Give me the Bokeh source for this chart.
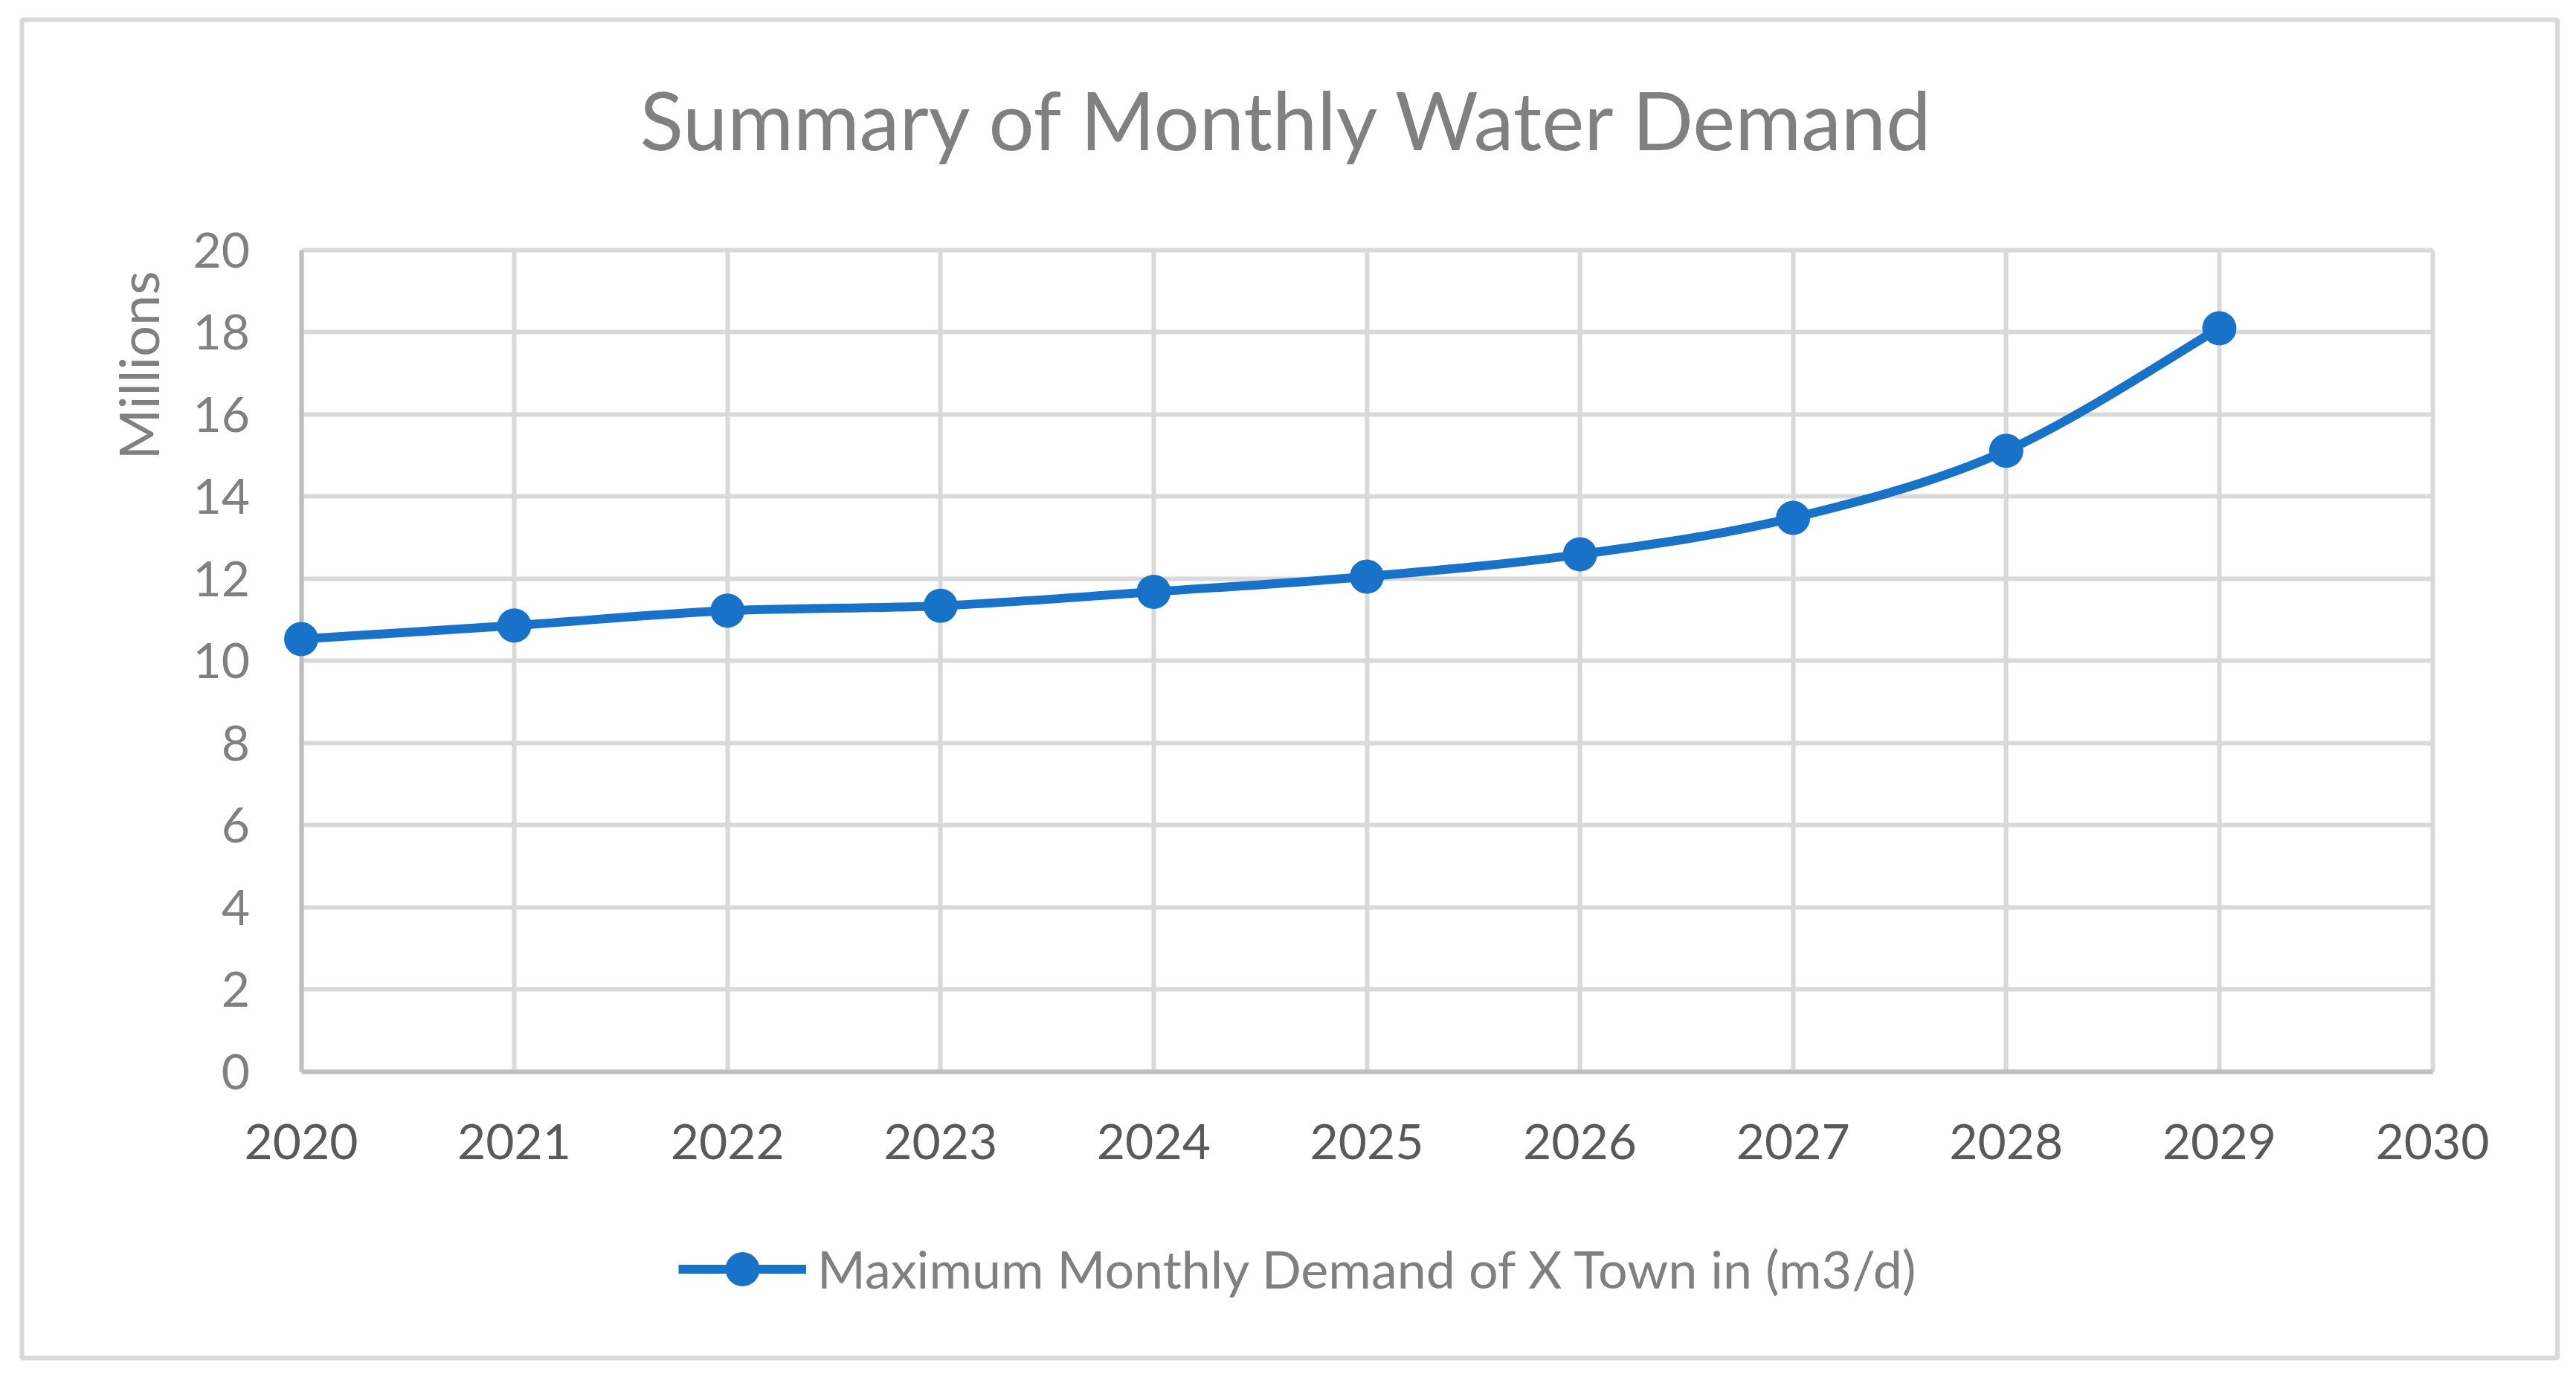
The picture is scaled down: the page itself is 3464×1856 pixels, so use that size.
import numpy as np
from bokeh.plotting import figure
from bokeh.models import (Range1d, FixedTicker, Grid, Label, Legend, LegendItem,
                          ColumnDataSource, BoxAnnotation)
from bokeh.embed import file_html
from bokeh.resources import INLINE

# ---------------- data ----------------
years = [2020, 2021, 2022, 2023, 2024, 2025, 2026, 2027, 2028, 2029]
demand_millions = [10.53, 10.86, 11.22, 11.34, 11.68, 12.05, 12.59, 13.48, 15.11, 18.09]
x_ticks = [2020, 2021, 2022, 2023, 2024, 2025, 2026, 2027, 2028, 2029, 2030]
y_ticks = [0, 2, 4, 6, 8, 10, 12, 14, 16, 18, 20]
title_text = "Summary of Monthly Water Demand"
y_unit_label = "Millions"
series_name = "Maximum Monthly Demand of X Town in (m3/d)"

# ---------------- geometry (canvas pixels; the canvas is the whole plot frame) ----------------
W, H = 3448, 1840
XPX = 286.6      # pixels per year
YPX = 55.275     # pixels per million
X0 = 396.5       # canvas x of the first year
Y0 = 1433.0      # canvas y of value 0

x_start = x_ticks[0] - X0 / XPX
x_end = x_start + W / XPX
y_start = -(H - Y0) / YPX
y_end = Y0 / YPX


def dx(cx):
    return x_ticks[0] + (cx - X0) / XPX


def dy(cy):
    return (Y0 - cy) / YPX


BLUE = "#1873C8"
GRID = "#D9D9D9"
AXIS = "#BFBFBF"
FONT = "Lato"

p = figure(width=W, height=H, output_backend="svg", toolbar_location=None,
           x_range=Range1d(x_start, x_end), y_range=Range1d(y_start, y_end),
           min_border_left=0, min_border_right=0, min_border_top=0, min_border_bottom=0,
           background_fill_color="white", border_fill_color="white",
           outline_line_color=None)
p.title.visible = False

# axes, drawn at fixed data locations inside the frame
p.xaxis.fixed_location = y_ticks[0]
p.yaxis.fixed_location = x_ticks[0]
p.xaxis.ticker = FixedTicker(ticks=x_ticks)
p.yaxis.ticker = FixedTicker(ticks=y_ticks)
p.xaxis.bounds = (x_ticks[0], x_ticks[-1])
p.yaxis.bounds = (y_ticks[0], y_ticks[-1])
p.xaxis.axis_line_color = AXIS
p.xaxis.axis_line_width = 6
p.xaxis.major_tick_line_color = None
p.xaxis.minor_tick_line_color = None
p.xaxis.major_label_text_font = FONT
p.xaxis.major_label_text_font_size = "66px"
p.xaxis.major_label_text_color = "#595959"
p.xaxis.major_label_standoff = 64

p.yaxis.axis_line_color = None
p.yaxis.major_tick_line_color = None
p.yaxis.minor_tick_line_color = None
p.yaxis.major_label_text_font = FONT
p.yaxis.major_label_text_font_size = "66px"
p.yaxis.major_label_text_color = "#808080"
p.yaxis.major_label_standoff = 63

# grids
p.xgrid.grid_line_color = GRID
p.xgrid.grid_line_width = 6
p.xgrid.cross_bounds = (y_ticks[0], y_ticks[-1])
p.ygrid.grid_line_color = GRID
p.ygrid.grid_line_width = 6
p.ygrid.cross_bounds = (x_ticks[0], x_ticks[-1])

# vertical axis line at the first year, drawn beneath the data
p.add_layout(Grid(dimension=0, ticker=FixedTicker(ticks=[x_ticks[0]]),
                  cross_bounds=(y_ticks[0], y_ticks[-1]),
                  grid_line_color=AXIS, grid_line_width=6))

# smooth line (Catmull-Rom converted to cubic Bezier segments)
xs = np.array(years, dtype=float)
ys = np.array(demand_millions, dtype=float)
n = len(xs)
xp = np.concatenate([[xs[0]], xs, [xs[-1]]])
yp = np.concatenate([[ys[0]], ys, [ys[-1]]])
bez = ColumnDataSource(dict(
    x0=xs[:-1], y0=ys[:-1], x1=xs[1:], y1=ys[1:],
    cx0=xp[1:n] + (xp[2:n + 1] - xp[0:n - 1]) / 6.0,
    cy0=yp[1:n] + (yp[2:n + 1] - yp[0:n - 1]) / 6.0,
    cx1=xp[2:n + 1] - (xp[3:n + 2] - xp[1:n]) / 6.0,
    cy1=yp[2:n + 1] - (yp[3:n + 2] - yp[1:n]) / 6.0,
))
r_line = p.bezier(x0="x0", y0="y0", x1="x1", y1="y1", cx0="cx0", cy0="cy0",
                  cx1="cx1", cy1="cy1", source=bez, line_color=BLUE, line_width=12)
r_pts = p.scatter(x=years, y=demand_millions, size=46, marker="circle",
                  fill_color=BLUE, line_color=None)

legend = Legend(items=[LegendItem(label=series_name, renderers=[r_line, r_pts])],
                location=(904, 84.5), orientation="horizontal",
                glyph_width=172, glyph_height=115, label_standoff=15,
                padding=0, margin=0, spacing=0,
                border_line_color=None, background_fill_alpha=0,
                label_text_font=FONT, label_text_font_size="70px",
                label_text_color="#808080")
p.add_layout(legend)

# title and unit label
p.add_layout(Label(x=dx(1725.5), y=dy(151), text=title_text, text_align="center",
                   text_baseline="alphabetic", text_font=FONT, text_font_size="108px",
                   text_color="#808080"))
p.add_layout(Label(x=dx(177), y=dy(483), text=y_unit_label, angle=np.pi / 2,
                   text_align="center", text_baseline="middle", text_font=FONT,
                   text_font_size="74px", text_color="#808080"))

# chart-area border
p.add_layout(BoxAnnotation(left=dx(21), right=dx(3430.5), top=dy(18), bottom=dy(1818),
                           fill_alpha=0, line_color=GRID, line_alpha=1.0,
                           line_width=6, level="underlay"))

p.styles = {"position": "absolute", "left": "8px", "top": "8px"}

html = file_html(p, INLINE, title="Summary of Monthly Water Demand")
open("out.html", "w").write(html)
